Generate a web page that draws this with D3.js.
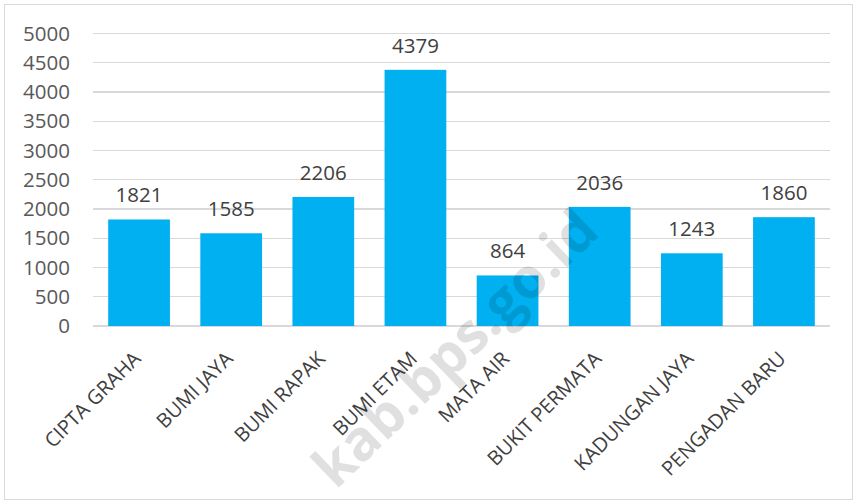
<!DOCTYPE html>
<meta charset="utf-8">
<style>
body {
  margin: 0;
  background: #fff;
  font-family: "Open Sans", sans-serif;
}
.grid line {
  stroke: #d9d9d9;
  stroke-width: 1.3;
  shape-rendering: crispEdges;
}
</style>
<body>
<div id="bars"></div>
<script src="https://d3js.org/d3.v7.min.js"></script>
<script>

const categories = ["CIPTA GRAHA", "BUMI JAYA", "BUMI RAPAK", "BUMI ETAM", "MATA AIR", "BUKIT PERMATA", "KADUNGAN JAYA", "PENGADAN BARU"];
const values = [1821, 1585, 2206, 4379, 864, 2036, 1243, 1860];
const yTicks = [0, 500, 1000, 1500, 2000, 2500, 3000, 3500, 4000, 4500, 5000];

const width = 854;
const height = 502;
const margin = {top: 33.5, right: 24, bottom: 176, left: 93};

const x = d3.scaleBand()
  .domain(categories)
  .range([margin.left, width - margin.right])
  .paddingInner(0.33)
  .paddingOuter(0.165);

const y = d3.scaleLinear()
  .domain([0, 5000])
  .range([height - margin.bottom, margin.top]);

const svg = d3.select("#bars")
  .append("svg")
  .attr("width", width)
  .attr("height", height);

// frame
svg.append("rect")
  .attr("x", 4.5)
  .attr("y", 4.5)
  .attr("width", width - 6)
  .attr("height", height - 7)
  .attr("fill", "white")
  .attr("stroke", "#d9d9d9")
  .attr("stroke-width", 1);

// gridlines
svg.append("g")
  .attr("class", "grid")
  .selectAll("line")
  .data(yTicks)
  .join("line")
    .attr("x1", margin.left)
    .attr("x2", width - margin.right)
    .attr("y1", d => y(d))
    .attr("y2", d => y(d));

// y tick labels
svg.append("g")
  .attr("transform", `translate(${margin.left - 23},0)`)
  .call(d3.axisLeft(y).tickValues(yTicks).tickSize(0).tickPadding(0).tickFormat(d3.format("d")))
  .call(g => g.select(".domain").remove())
  .selectAll("text")
    .attr("font-family", "Open Sans, sans-serif")
    .attr("font-size", "20.5px")
    .attr("fill", "#595959");

// bars
svg.append("g")
  .selectAll("rect")
  .data(values)
  .join("rect")
    .attr("x", (d, i) => x(categories[i]))
    .attr("y", d => y(d))
    .attr("width", x.bandwidth())
    .attr("height", d => y(0) - y(d))
    .attr("fill", "#00b0f0");

// value labels
svg.append("g")
  .selectAll("text")
  .data(values)
  .join("text")
    .attr("x", (d, i) => x(categories[i]) + x.bandwidth() / 2)
    .attr("y", d => y(d) - 17)
    .attr("text-anchor", "middle")
    .attr("font-size", "20.5px")
    .attr("fill", "#404040")
    .text(d => d);

// category labels
svg.append("g")
  .selectAll("text")
  .data(categories)
  .join("text")
    .attr("transform", d => `translate(${x(d) + x.bandwidth() / 2 + 3},${y(0) + 34}) rotate(-45)`)
    .attr("text-anchor", "end")
    .attr("font-size", "20px")
    .attr("fill", "#404040")
    .text(d => d);

// watermark on top
svg.append("text")
  .attr("transform", "translate(455,348) rotate(-44)")
  .attr("text-anchor", "middle")
  .attr("dy", "0.35em")
  .attr("font-size", "56px")
  .attr("font-weight", "bold")
  .attr("fill", "black")
  .attr("fill-opacity", 0.12)
  .text("kab.bps.go.id");

</script>
